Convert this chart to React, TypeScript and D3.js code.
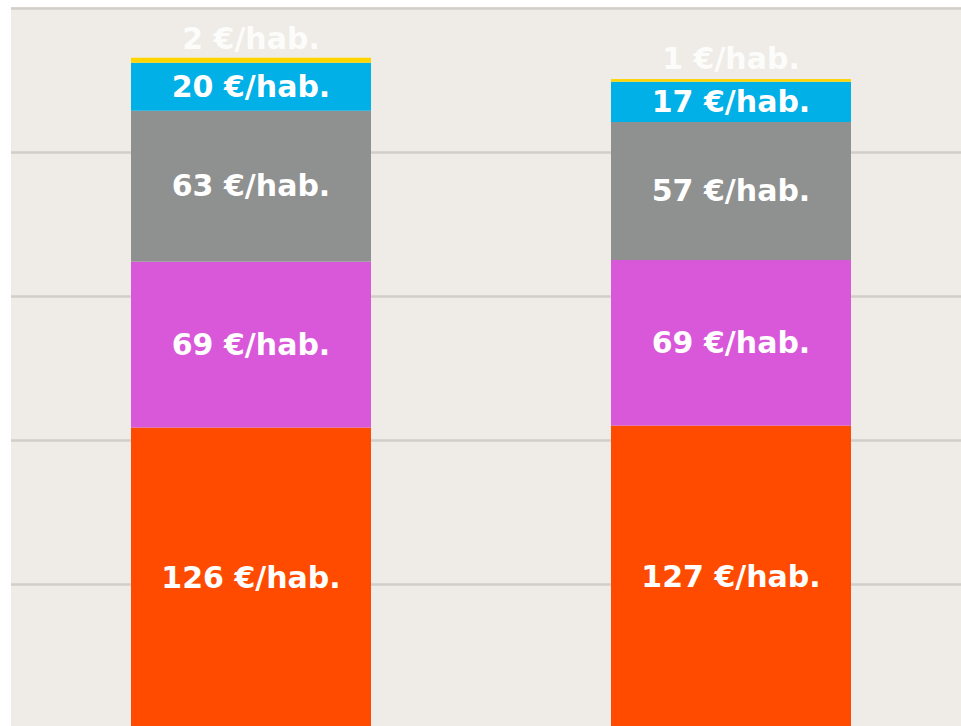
import React from "react";
import * as d3 from "d3";

const categories = ["A", "B"];
const seriesNames = ["orange", "pink", "gray", "blue", "yellow"];
const seriesColors = ["#FF4B00", "#D957D9", "#8F9190", "#00B0E6", "#FFD500"];
// values (per category, per series, bottom to top)
const valuesA = [125.4, 69.1, 62.9, 20.0, 2.1];
const valuesB = [126.2, 69.0, 57.5, 16.8, 1.1];
const labelsA = ["126 €/hab.", "69 €/hab.", "63 €/hab.", "20 €/hab.", "2 €/hab."];
const labelsB = ["127 €/hab.", "69 €/hab.", "57 €/hab.", "17 €/hab.", "1 €/hab."];
const gridTicks = [60, 120, 180, 240, 300];

export default function App() {
  const W = 961, H = 726;
  const x = d3.scaleBand<string>().domain(categories).range([11, 971]).paddingInner(0.5).paddingOuter(0.25);
  const y = d3.scaleLinear().domain([0, 300]).range([728.5, 8.5]);
  const data = [valuesA, valuesB];
  const labels = [labelsA, labelsB];
  const rows = categories.map((c, i) => {
    const o: any = { cat: c };
    seriesNames.forEach((s, j) => (o[s] = data[i][j]));
    return o;
  });
  const stacked = d3.stack().keys(seriesNames)(rows);
  const font = "'DejaVu Sans', sans-serif";
  return (
    <svg width={W} height={H} style={{ position: "absolute", left: 0, top: 0 }}>
      <rect x={0} y={0} width={W} height={H} fill="#ffffff" />
      <rect x={11} y={7} width={W - 11} height={H - 7} fill="#EFECE7" />
      {gridTicks.map((t) => (
        <line key={t} x1={11} x2={W} y1={y(t)} y2={y(t)} stroke="#D2CDC6" strokeWidth={2.7} />
      ))}
      {stacked.map((layer, j) =>
        layer.map((d, i) => (
          <rect
            key={`${j}-${i}`}
            x={x(categories[i])}
            width={x.bandwidth()}
            y={y(d[1])}
            height={y(d[0]) - y(d[1])}
            fill={seriesColors[j]}
          />
        ))
      )}
      {stacked.map((layer, j) =>
        layer.map((d, i) => {
          const cx = (x(categories[i]) as number) + x.bandwidth() / 2;
          const cy = (y(d[0]) + y(d[1])) / 2;
          const small = j === seriesNames.length - 1;
          return (
            <text
              key={`t-${j}-${i}`}
              x={cx}
              y={small ? cy - 11 : cy + 10}
              textAnchor="middle"
              fill="#ffffff"
              fillOpacity={small ? 0.85 : 1}
              fontFamily={font}
              fontWeight="bold"
              fontSize={30}
            >
              {labels[i][j]}
            </text>
          );
        })
      )}
    </svg>
  );
}
